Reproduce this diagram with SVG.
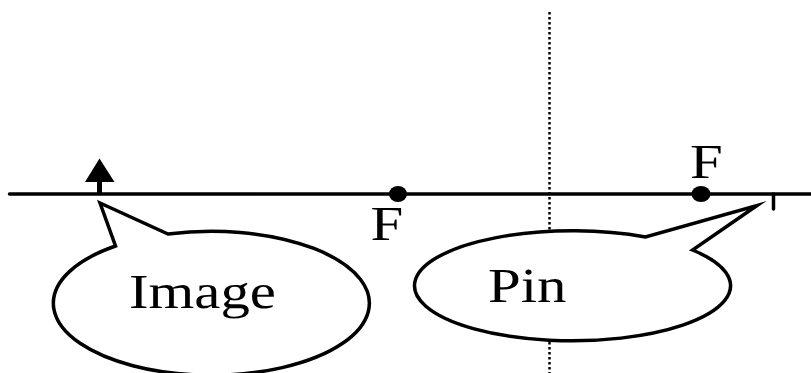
<svg xmlns="http://www.w3.org/2000/svg" width="811" height="373" viewBox="0 0 811 373">
<style>
.l{fill:none;stroke:#000;stroke-width:3.500;stroke-linecap:round}
.b{fill:#fff;stroke:#000;stroke-width:3.500;stroke-linejoin:miter;stroke-miterlimit:10}
.t{font-family:"Liberation Serif","Times New Roman",serif;font-size:49px;fill:#000;text-rendering:geometricPrecision}
</style>
<rect width="811" height="373" fill="#fff"/>
<g id="connectors">
<line id="symmetry-axis" x1="549.5" y1="12" x2="549.5" y2="373" stroke="#000" stroke-width="2.500" stroke-dasharray="2.500 2.500"/>
<line id="optical-axis" class="l" x1="9.500" y1="194" x2="811" y2="194"/>
<line id="pin-tick" class="l" x1="773.500" y1="194" x2="773.500" y2="209"/>
<line id="image-stem" x1="99.5" y1="194" x2="99.5" y2="180" stroke="#000" stroke-width="5"/>
<polygon id="image-head" points="99.5,158.5 114.5,182 85,182" fill="#000"/>
</g>
<g id="focus-left">
<ellipse cx="398" cy="194" rx="9" ry="8"/>
<text class="t" transform="translate(370.500,240) scale(1.2,1)">F</text>
</g>
<g id="focus-right">
<ellipse cx="701" cy="194" rx="9.500" ry="8"/>
<text class="t" transform="translate(690,178) scale(1.2,1)">F</text>
</g>
<g id="image-bubble">
<path class="b" d="M100 203L115.500 246A158 72 0 1 0 168 234Z"/>
<text class="t" transform="translate(129,308) scale(1.2,1)">Image</text>
</g>
<g id="pin-bubble">
<path class="b" d="M757 205.500L692.500 250A158 55 0 1 1 645.500 237Z"/>
<text class="t" transform="translate(488,302) scale(1.2,1)">Pin</text>
</g>
</svg>
